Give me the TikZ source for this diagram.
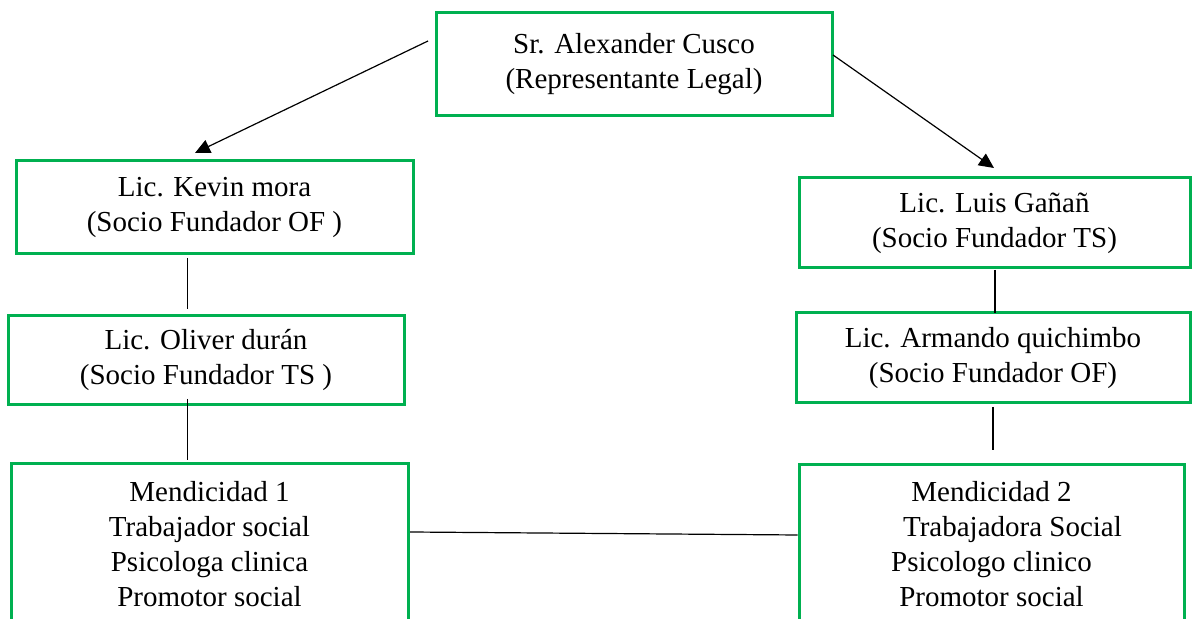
\documentclass[tikz,border=0pt]{standalone}
\usepackage{fontspec}
\setmainfont{Liberation Serif}
\usetikzlibrary{arrows.meta}
\definecolor{boxgreen}{HTML}{00B050}

\begin{document}
\begin{tikzpicture}[x=0.5pt, y=0.5pt,
                    box_style/.style={rectangle, draw=boxgreen, line width=1.5pt, inner sep=0pt,
                                      align=center, font=\fontsize{14.5}{17.5}\selectfont},
                    link_style/.style={draw=black, line width=0.6pt},
                    arrow_style/.style={link_style, -{Triangle[length=7.5pt, width=7pt]}}]
                    \useasboundingbox (0, 0) rectangle (1192, 619);
                    \clip (0, 0) rectangle (1192, 619);
                    \node[box_style, minimum width=198pt, minimum height=51.5pt] (rep) at (634, 554.7) {Sr. Alexander Cusco\\(Representante Legal)};
                    \node[box_style, minimum width=198.5pt, minimum height=46.5pt] (kevin) at (214.5, 411.5) {Lic. Kevin mora\\(Socio Fundador OF )};
                    \node[box_style, minimum width=198pt, minimum height=44.5pt] (oliver) at (206, 258.5) {Lic. Oliver durán\\(Socio Fundador TS )};
                    \node[box_style, minimum width=198.5pt, minimum height=80pt] (mend1) at (209.5, 75) {Mendicidad 1\\Trabajador social\\Psicologa clinica\\Promotor social};
                    \node[box_style, minimum width=195.5pt, minimum height=45pt] (luis) at (994.5, 396) {Lic. Luis Gañañ\\(Socio Fundador TS)};
                    \node[box_style, minimum width=197pt, minimum height=45pt] (armando) at (993, 261) {Lic. Armando quichimbo\\(Socio Fundador OF)};
                    \node[box_style, minimum width=192.5pt, minimum height=79pt] (mend2) at (991.5, 75) {Mendicidad 2\\\hspace*{21pt}Trabajadora Social\\Psicologo clinico\\Promotor social};
                    % free ends of the connectors
                    \coordinate (rep_l) at (428, 578);
                    \coordinate (kevin_t) at (195, 466);
                    \coordinate (rep_r) at (833, 564);
                    \coordinate (luis_t) at (994, 451);
                    \coordinate (kevin_b) at (187.5, 361);
                    \coordinate (oliver_t) at (187.5, 310);
                    \coordinate (oliver_b) at (187.5, 220);
                    \coordinate (mend1_t) at (187.5, 159);
                    \coordinate (luis_b) at (995, 349);
                    \coordinate (armando_t) at (995, 306);
                    \coordinate (armando_b) at (993, 212);
                    \coordinate (mend2_t) at (993, 169);
                    \coordinate (mend1_r) at (410, 87);
                    \coordinate (mend2_l) at (797.5, 84);
                    \draw[arrow_style] (rep_l) -- (kevin_t);
                    \draw[arrow_style] (rep_r) -- (luis_t);
                    \draw[link_style] (kevin_b) edge (oliver_t);
                    \draw[link_style] (oliver_b) edge (mend1_t);
                    \draw[link_style] (luis_b) edge (armando_t);
                    \draw[link_style] (armando_b) edge (mend2_t);
                    \draw[link_style] (mend1_r) edge (mend2_l);
                \end{tikzpicture}
\end{document}
